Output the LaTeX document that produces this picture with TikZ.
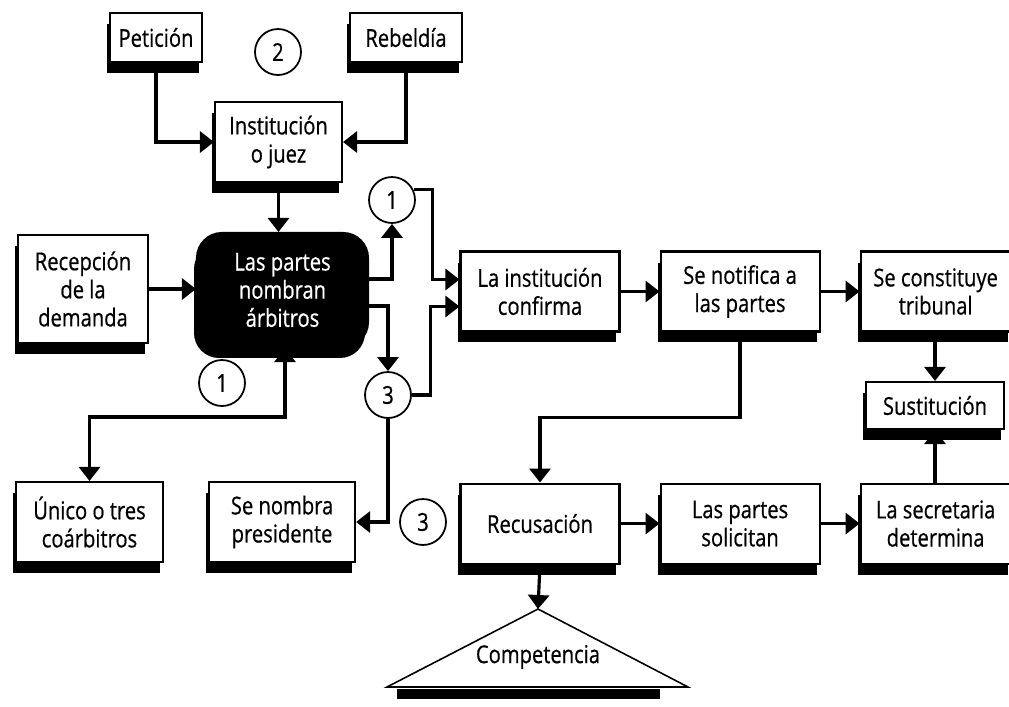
\documentclass[tikz,border=0pt]{standalone}
\usepackage{fontspec}
\setmainfont{Open Sans}[FakeStretch=0.82,FakeBold=0.6]
\usetikzlibrary{arrows.meta,positioning,shadows}

\begin{document}
\begin{tikzpicture}[x=0.02cm,y=-0.02cm,>={Triangle[width=4.2mm,length=2.8mm]},
  line width=1.8pt,node distance=7.8mm and 7.8mm,
  bx/.style={draw,line width=1.2pt,fill=white,align=center,inner sep=1pt,
    minimum width=3.18cm,minimum height=1.6cm,font=\fontsize{14}{16}\selectfont,
    drop shadow={shadow xshift=-.06cm,shadow yshift=-.22cm,fill=black,opacity=1}},
  dark/.style={bx,fill=black,text=white,rounded corners=.5cm},
  cir/.style={circle,draw,line width=1pt,minimum size=.92cm,inner sep=0pt,
    font=\fontsize{14}{16}\selectfont}]
\useasboundingbox (0,0) rectangle (1009,707);

% arriba
\node[bx,minimum width=1.84cm,minimum height=.98cm] (petic) at (156,37.5) {Petición};
\node[bx,minimum width=2.24cm,minimum height=.98cm] (rebel) at (406,37.5) {Rebeldía};
\node[cir] (c2) at (278,52) {2};
\node[bx,minimum width=2.54cm] (inst) at (278.5,142) {Institución\\o juez};

% centro izquierda
\node[bx,minimum width=2.6cm,minimum height=2.16cm] (recep) at (83,289) {Recepción\\de la\\demanda};
\node[dark,minimum width=3.42cm,minimum height=2.28cm] (partes) at (282.5,290) {Las partes\\nombran\\árbitros};
\node[cir] (c1a) at (392,200) {1};
\node[cir] (c1b) at (222,383) {1};
\node[cir] (c3a) at (388,395) {3};

% fila de la derecha
\node[bx] (conf) at (540,291.5) {La institución\\confirma};
\node[bx,right=of conf] (notif) {Se notifica a\\las partes};
\node[bx,minimum width=3cm,right=of notif] (trib) {Se constituye\\tribunal};
\node[bx,minimum width=2.76cm,minimum height=.94cm] (sust) at (935,405.5) {Sustitución};

% abajo
\node[bx,minimum width=2.94cm] (unico) at (89.5,522) {Único o tres\\coárbitros};
\node[bx,minimum width=2.92cm,right=8.8mm of unico] (pres) {Se nombra\\presidente};
\node[cir] (c3b) at (423,522) {3};
\node[bx,below=3cm of conf] (recus) {Recusación};
\node[bx,right=of recus] (solic) {Las partes\\solicitan};
\node[bx,minimum width=3cm,right=of solic] (secr) {La secretaria\\determina};

% competencia
\coordinate (apex) at (538,609);
\fill (397,689) rectangle (660,699);
\draw[line width=.9pt,fill=white] (apex) -- (387,687) -- (688,687) -- cycle;
\node[font=\fontsize{14}{16}\selectfont] (compet) at (538,657) {Competencia};

\draw[->] (petic.south) |- (inst.west);
\draw[->] (rebel.south) |- (inst.east);
\draw[->] (inst.south) -- (inst.south |- partes.north);
\draw[->] (recep.east) -- (recep.east -| partes.west);
\draw[->] ([yshift=.22cm]partes.east) -| (c1a.south);
\draw[->] ([yshift=-.32cm]partes.east) -| (c3a.north);
\draw[->] (c1a.25) -- ++(.38cm,0) |- ([yshift=.24cm]conf.west);
\draw[->] (c3a.east) -- ++(.38cm,0) |- ([yshift=-.3cm]conf.west);
\draw[->] (c3a.south) |- (pres.east);
\coordinate (split) at (285,417);
\draw[<->] (unico.north) |- (split) -- (split |- partes.south);
\draw[->] (conf) -- (notif);
\draw[->] (notif) -- (trib);
\draw[->] (trib.south -| sust) -- (sust.north);
\draw[->] (notif.south) -- ++(0,-1.7cm) -| (recus.north);
\draw[->] (recus) -- (solic);
\draw[->] (solic) -- (secr);
\draw[->] (secr.north -| sust) -- (sust.south);
\draw[->] (recus.south) -- (apex);
\end{tikzpicture}
\end{document}
